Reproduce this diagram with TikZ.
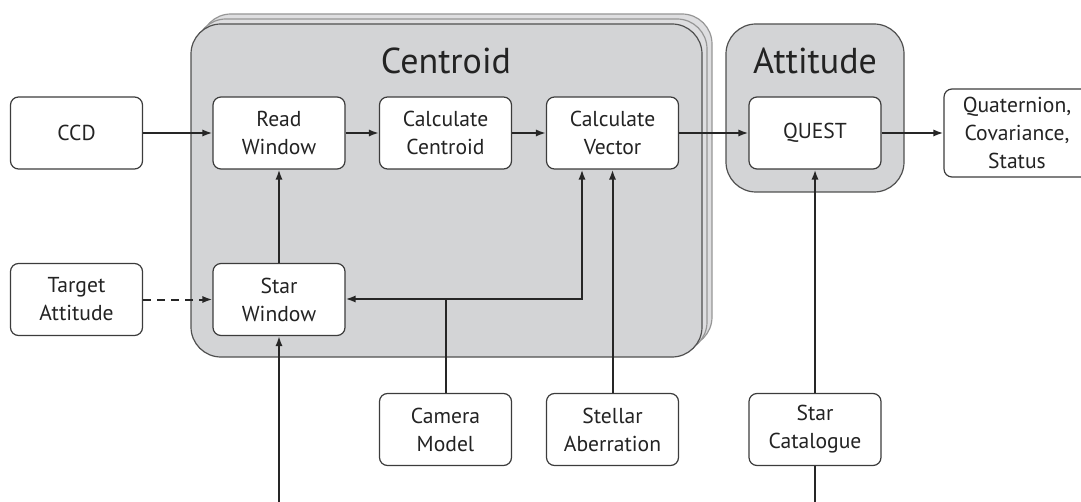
\documentclass[tikz,border=0pt]{standalone}
\usepackage{fontspec}
\setmainfont{PT Sans}
\usetikzlibrary{arrows.meta}
\definecolor{grpfill}{RGB}{211,212,214}
\definecolor{grpback}{RGB}{222,222,224}
\definecolor{grpline}{RGB}{80,80,80}
\definecolor{backline}{RGB}{150,150,150}
\definecolor{boxline}{RGB}{60,60,60}
\definecolor{txt}{RGB}{35,35,35}
\tikzset{
  blk/.style={draw=boxline, line width=0.6pt, fill=white, rounded corners=4pt,
    minimum width=66pt, minimum height=36pt, inner sep=0pt, align=center,
    font=\fontsize{10.8}{14}\selectfont, text=txt},
  grp/.style={draw=grpline, line width=0.6pt, fill=grpfill, rounded corners=15pt},
  grpcopy/.style={draw=backline, line width=0.6pt, fill=grpback, rounded corners=15pt},
  ttl/.style={font=\fontsize{18}{21}\selectfont, text=txt, inner sep=0pt, anchor=base},
  arr/.style={draw=black!85, line width=1pt, -{Latex[length=5pt,width=3.6pt]}},
  ln/.style={draw=black!85, line width=1pt},
}
\begin{document}
\begin{tikzpicture}[x=0.5pt,y=-0.5pt]
\clip (0,0) rectangle (1081,502);
% Centroid group (stacked)
\path[grpcopy] (201,14) rectangle (712,347);
\path[grpcopy] (196,19) rectangle (707,352);
\path[grp] (191,24) rectangle (702,357);
\node[ttl] (tc) at (446,73.5) {Centroid};
% Attitude group
\path[grp] (726,24) rectangle (904,192);
\node[ttl] (ta) at (815,73.5) {Attitude};
% blocks
\node[blk] (ccd) at (76.5,133) {CCD};
\node[blk] (read) at (279,133) {Read\\Window};
\node[blk] (calcc) at (445.5,133) {Calculate\\Centroid};
\node[blk] (calcv) at (612.5,133) {Calculate\\Vector};
\node[blk] (quest) at (815,133) {QUEST};
\node[blk, minimum width=73pt, minimum height=44pt] (out) at (1017,133) {Quaternion,\\Covariance,\\Status};
\node[blk] (target) at (76.5,299.5) {Target\\Attitude};
\node[blk] (starw) at (279,299.5) {Star\\Window};
\node[blk] (cam) at (445.5,429.5) {Camera\\Model};
\node[blk] (stel) at (612.5,429.5) {Stellar\\Aberration};
\node[blk] (cat) at (815,429.5) {Star\\Catalogue};
% connectors
\draw[arr] (ccd) -- (read);
\draw[arr, dash pattern=on 4pt off 3pt] (target) -- (starw);
\draw[arr] (read) -- (calcc);
\draw[arr] (calcc) -- (calcv);
\draw[arr] (calcv) -- (quest);
\draw[arr] (quest) -- (out);
\draw[arr] (starw) -- (read);
\coordinate (j) at (445.5,299);
\coordinate (k) at (582,299);
\draw[arr] (cam.north) -- (j) -- (starw.east |- j);
\draw[arr] (j) -- (k) -- (k |- calcv.south);
\draw[arr] (stel) -- (calcv);
\coordinate (b1) at (279,502);
\coordinate (b2) at (815,502);
\draw[arr] (b1) -- (starw);
\draw[ln] (b2) -- (cat);
\draw[arr] (cat) -- (quest);
\end{tikzpicture}
\end{document}
